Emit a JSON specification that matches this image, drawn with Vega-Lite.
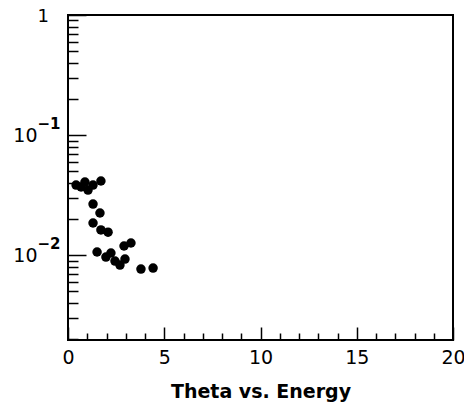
{
  "$schema": "https://vega.github.io/schema/vega-lite/v6.json",
  "width": 385,
  "height": 325,
  "autosize": "none",
  "padding": {"left": 68, "top": 15, "right": 11, "bottom": 67},
  "config": {"view": {"stroke": "black", "strokeWidth": 2}, "font": "DejaVu Sans"},
  "data": {"values": [
    {"energy": 0.42, "theta": 0.0383},
    {"energy": 0.68, "theta": 0.0369},
    {"energy": 0.88, "theta": 0.0406},
    {"energy": 1.04, "theta": 0.0348},
    {"energy": 1.30, "theta": 0.0383},
    {"energy": 1.71, "theta": 0.0414},
    {"energy": 1.30, "theta": 0.0266},
    {"energy": 1.66, "theta": 0.0224},
    {"energy": 1.30, "theta": 0.0185},
    {"energy": 1.71, "theta": 0.0162},
    {"energy": 2.08, "theta": 0.0155},
    {"energy": 2.91, "theta": 0.0119},
    {"energy": 3.27, "theta": 0.0126},
    {"energy": 1.51, "theta": 0.0106},
    {"energy": 1.97, "theta": 0.00962},
    {"energy": 2.23, "theta": 0.0104},
    {"energy": 2.44, "theta": 0.00891},
    {"energy": 2.70, "theta": 0.00825},
    {"energy": 2.96, "theta": 0.00926},
    {"energy": 3.79, "theta": 0.00764},
    {"energy": 4.42, "theta": 0.00779}
  ]},
  "layer": [
    {
      "mark": {"type": "circle", "size": 90, "color": "black", "opacity": 1},
      "encoding": {
        "x": {"field": "energy", "type": "quantitative",
          "scale": {"domain": [0, 20], "nice": false, "zero": false},
          "axis": {"orient": "bottom", "values": [0, 5, 10, 15, 20], "ticks": false, "domain": false, "grid": false,
            "labelFontSize": 19, "labelPadding": 8, "labelColor": "black", "labelFlush": false,
            "title": "Theta vs. Energy", "titleFontSize": 19, "titleFontWeight": "bold", "titleColor": "black", "titlePadding": 15}},
        "y": {"field": "theta", "type": "quantitative",
          "scale": {"type": "log", "domain": [0.00196, 1], "nice": false},
          "axis": {"orient": "left", "values": [0.1, 0.01], "ticks": false, "domain": false, "grid": false,
            "labelExpr": "'10'", "labelFontSize": 19, "labelPadding": 31, "labelColor": "black", "title": null}}
      }
    },
    {
      "mark": {"type": "point", "opacity": 0},
      "encoding": {
        "x": {"field": "energy", "type": "quantitative",
          "axis": {"orient": "bottom", "values": [0,1,2,3,4,5,6,7,8,9,10,11,12,13,14,15,16,17,18,19,20],
            "labels": false, "domain": false, "grid": false, "title": null, "tickColor": "black", "tickWidth": 1.5,
            "tickSize": {"condition": {"test": "datum.value % 5 == 0", "value": -13}, "value": -7}}},
        "y": {"field": "theta", "type": "quantitative",
          "axis": {"orient": "left", "values": [0.002,0.003,0.004,0.005,0.006,0.007,0.008,0.009,0.01,0.02,0.03,0.04,0.05,0.06,0.07,0.08,0.09,0.1,0.2,0.3,0.4,0.5,0.6,0.7,0.8,0.9,1],
            "labels": false, "domain": false, "grid": false, "title": null, "tickColor": "black", "tickWidth": 1.5,
            "tickSize": {"condition": {"test": "datum.value == 1 || datum.value == 0.1 || datum.value == 0.01", "value": -18}, "value": -10}}}
      }
    },
    {
      "mark": {"type": "point", "opacity": 0},
      "encoding": {
        "y": {"field": "theta", "type": "quantitative",
          "axis": {"orient": "left", "values": [1, 0.1, 0.01], "ticks": false, "domain": false, "grid": false, "title": null,
            "labelExpr": "datum.value == 1 ? '1' : datum.value == 0.1 ? '\u22121' : '\u22122'",
            "labelAlign": "left", "labelPadding": 31, "labelColor": "black",
            "labelFontWeight": {"condition": {"test": "datum.value == 1", "value": "normal"}, "value": "bold"},
            "labelFontSize": {"condition": {"test": "datum.value == 1", "value": 18}, "value": 15},
            "labelOffset": {"condition": {"test": "datum.value == 1", "value": 1}, "value": -12}}}
      }
    }
  ],
  "resolve": {"axis": {"x": "independent", "y": "independent"}}
}
